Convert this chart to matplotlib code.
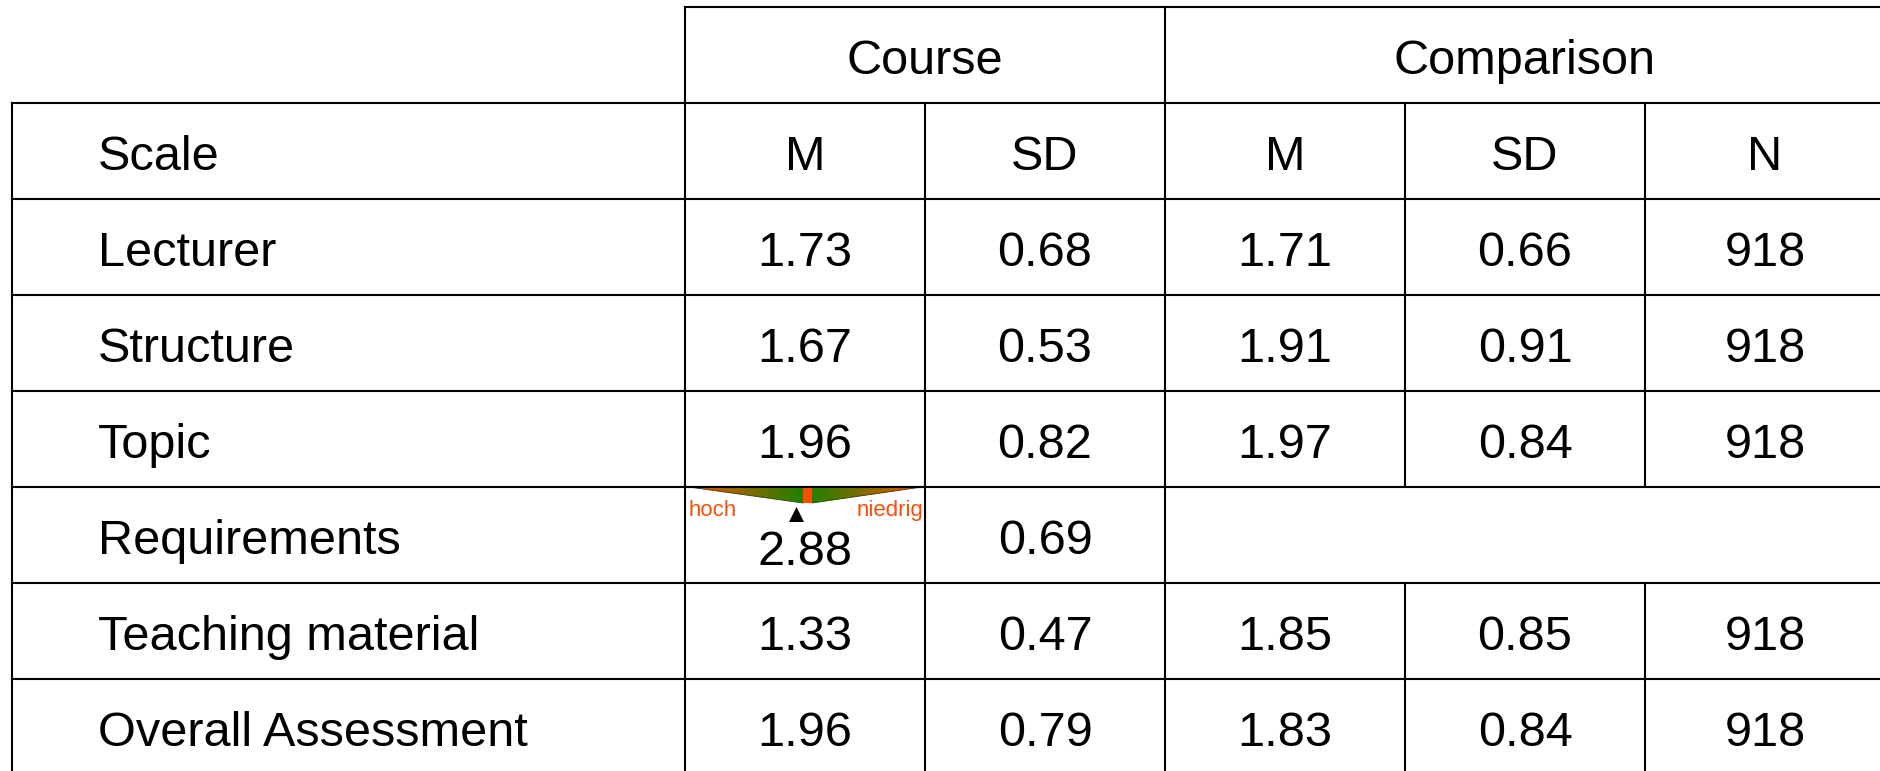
import numpy as np
import matplotlib
matplotlib.use("Agg")
import matplotlib.pyplot as plt
from matplotlib.patches import Polygon, Rectangle
from matplotlib.colors import LinearSegmentedColormap

plt.rcParams['font.family'] = ['Liberation Sans', 'DejaVu Sans']

# ---- data ----
scales = ["Lecturer", "Structure", "Topic", "Requirements", "Teaching material", "Overall Assessment"]
course_m = ["1.73", "1.67", "1.96", "2.88", "1.33", "1.96"]
course_sd = ["0.68", "0.53", "0.82", "0.69", "0.47", "0.79"]
comp_m = ["1.71", "1.91", "1.97", None, "1.85", "1.83"]
comp_sd = ["0.66", "0.91", "0.84", None, "0.85", "0.84"]
comp_n = ["918", "918", "918", None, "918", "918"]
group_headers = ["Course", "Comparison"]
col_headers = ["Scale", "M", "SD", "M", "SD", "N"]
gauge_labels = ["hoch", "niedrig"]

W, H = 1881, 771
fig = plt.figure(figsize=(W / 100, H / 100), dpi=100)
ax = fig.add_axes([0, 0, 1, 1])
ax.set_xlim(0, W)
ax.set_ylim(H, 0)
ax.axis('off')

# layout
x_left = 12
col_x = [685, 925, 1165, 1405, 1645, 1885]
y_top = 7
y_head = 103
row_h = 96
n_rows = len(scales) + 1
row_y = [y_head + i * row_h for i in range(n_rows + 1)]
lw = 1.5
FS = 35
k = dict(color='black', lw=lw, solid_capstyle='projecting')

# horizontal lines
ax.plot([col_x[0], W + 5], [y_top, y_top], **k)
for y in row_y:
    ax.plot([x_left, W + 5], [y, y], **k)
# vertical lines
ax.plot([x_left, x_left], [y_head, H + 5], **k)
ax.plot([col_x[0], col_x[0]], [y_top, H + 5], **k)
ax.plot([col_x[2], col_x[2]], [y_top, H + 5], **k)
ax.plot([col_x[1], col_x[1]], [y_head, H + 5], **k)
req = scales.index("Requirements")
for cx in (col_x[3], col_x[4]):
    for i in range(len(scales)):
        if comp_m[i] is None:
            continue
        ax.plot([cx, cx], [row_y[i + 1], row_y[i + 2]], **k)
    ax.plot([cx, cx], [y_head, row_y[1]], **k)


def put(x, yc, s, ha='center', dy=19, **kw):
    ax.text(x, yc + dy, s, ha=ha, va='baseline', fontsize=FS, color='black', **kw)


# group headers
put((col_x[0] + col_x[2]) / 2, (y_top + y_head) / 2, group_headers[0])
put((col_x[2] + col_x[5]) / 2, (y_top + y_head) / 2, group_headers[1])

# column headers
hc = (row_y[0] + row_y[1]) / 2
put(98, hc, col_headers[0], ha='left')
for j in range(5):
    put((col_x[j] + col_x[j + 1]) / 2, hc, col_headers[j + 1])

# body
for i, name in enumerate(scales):
    yc = (row_y[i + 1] + row_y[i + 2]) / 2
    put(98, yc, name, ha='left')
    cols = [course_m[i], course_sd[i], comp_m[i], comp_sd[i], comp_n[i]]
    for j, v in enumerate(cols):
        if v is None:
            continue
        if i == req and j == 0:
            continue
        put((col_x[j] + col_x[j + 1]) / 2, yc, v)

# gauge in Requirements / Course M cell
yt = row_y[req + 1]
yc = (row_y[req + 1] + row_y[req + 2]) / 2
xl, xr = 689, 922
xa1, xa2 = 803, 812
ya = yt + 16
cmap = LinearSegmentedColormap.from_list('g', ['#ee5500', '#1a8200'])
grad = np.concatenate([np.linspace(0, 1, 200), np.linspace(1, 0, 200)])[None, :]
im = ax.imshow(grad, cmap=cmap, extent=[xl, xr, ya, yt], aspect='auto', zorder=2,
               interpolation='bilinear')
tri = Polygon([[xl, yt], [xr, yt], [xa2, ya], [xa1, ya]], closed=True,
              facecolor='none', edgecolor='none', transform=ax.transData)
ax.add_patch(tri)
im.set_clip_path(tri)
ax.plot([xl, xa1], [yt, ya], color='#333333', lw=0.6, zorder=3)
ax.plot([xa2, xr], [ya, yt], color='#333333', lw=0.6, zorder=3)
ax.add_patch(Rectangle((xa1, yt), xa2 - xa1, ya - yt, facecolor='#ff4e00',
                       edgecolor='none', zorder=4))
ax.plot([col_x[0], col_x[1]], [yt, yt], **k, zorder=5)

orange = '#f5500f'
ax.text(xl - 1, yt + 29, gauge_labels[0], ha='left', va='baseline', fontsize=16, color=orange)
ax.text(xr + 1, yt + 29, gauge_labels[1], ha='right', va='baseline', fontsize=16, color=orange)
ax.add_patch(Polygon([[789, yt + 35], [804, yt + 35], [796.5, yt + 20]], closed=True,
                     facecolor='black', edgecolor='none', zorder=4))
put((col_x[0] + col_x[1]) / 2, yc, course_m[req], dy=30)

fig.savefig('out.png', dpi=100)
